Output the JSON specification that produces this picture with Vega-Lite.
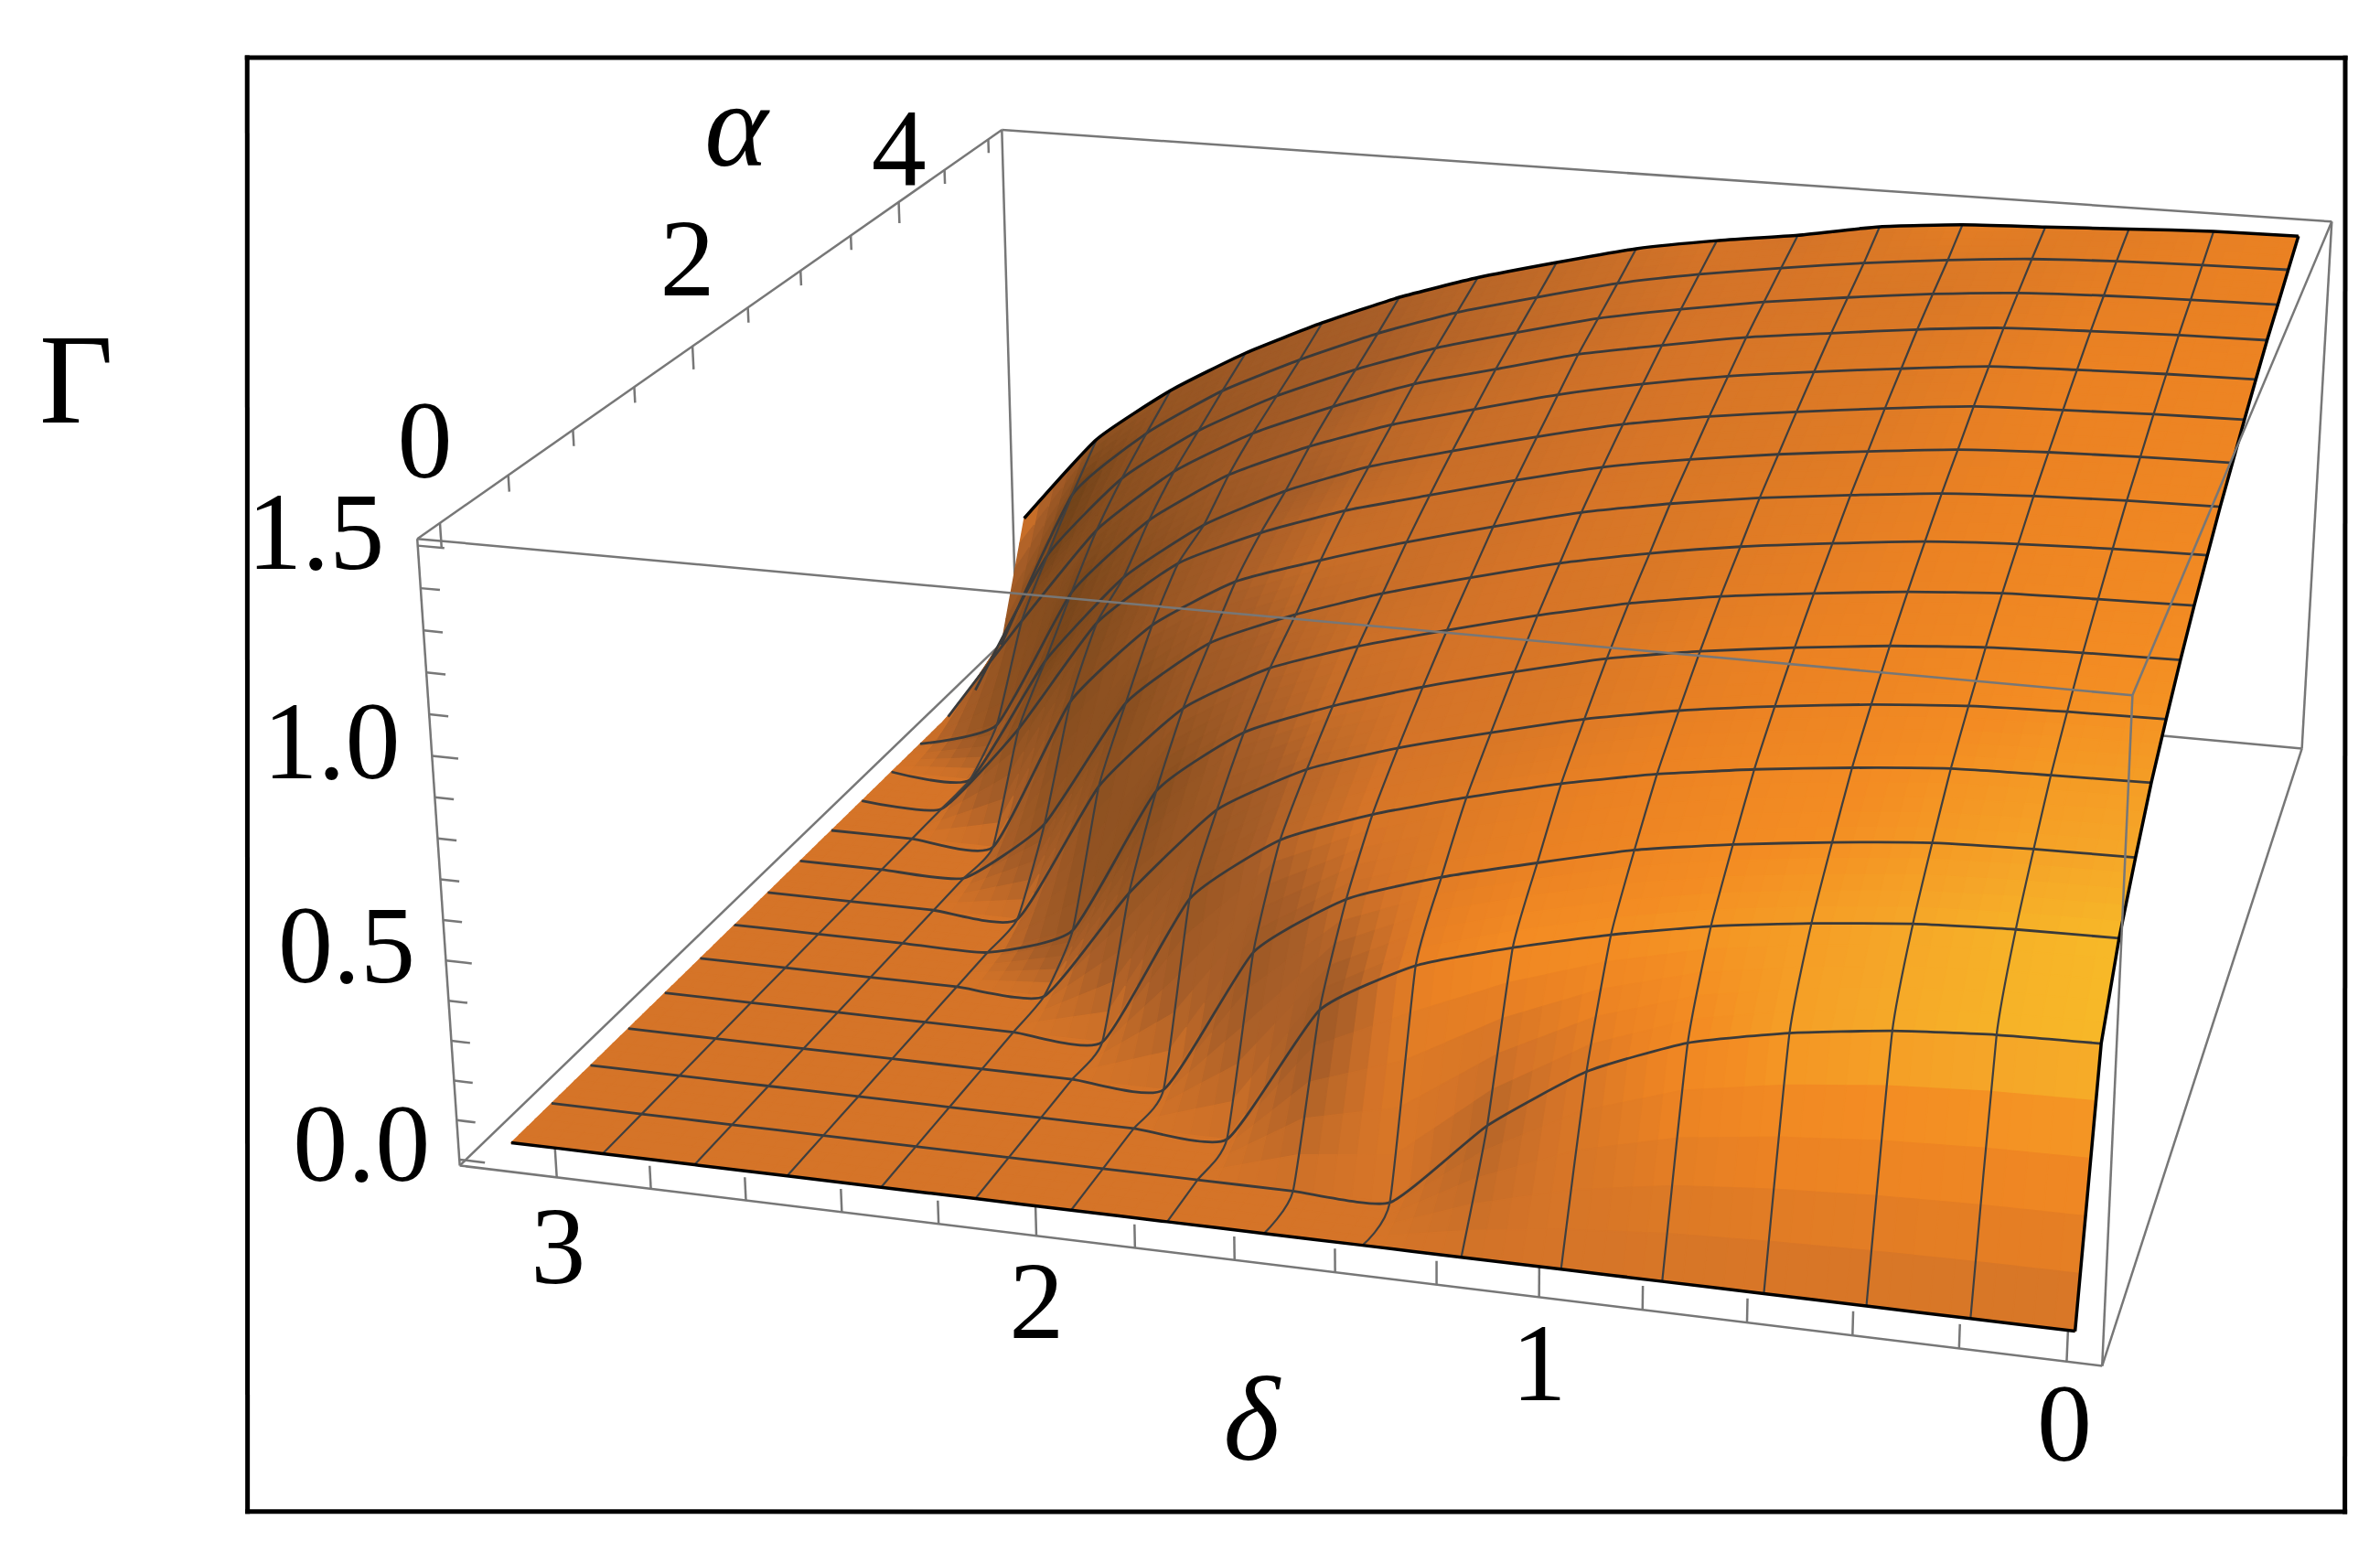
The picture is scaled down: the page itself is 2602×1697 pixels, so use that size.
{"$schema":"https://vega.github.io/schema/vega-lite/v6.json","width":2602,"height":1697,"autosize":"none","padding":0,"background":"white","config":{"view":{"stroke":null}},"projection":{"type":"identity","scale":1.6594,"translate":[0,0]},
"datasets":{"nodes":[
{"n":16,"d":0,"a":5,"g":1.5},{"n":116,"d":0.196,"a":5,"g":1.497},{"n":216,"d":0.393,"a":5,"g":1.487},{"n":316,"d":0.589,"a":5,"g":1.476},{"n":416,"d":0.785,"a":5,"g":1.466},{"n":516,"d":0.982,"a":5,"g":1.444},{"n":616,"d":1.178,"a":5,"g":1.403},{"n":716,"d":1.374,"a":5,"g":1.371},{"n":816,"d":1.571,"a":5,"g":1.331},{"n":916,"d":1.767,"a":5,"g":1.274},{"n":1016,"d":1.963,"a":5,"g":1.213},{"n":1116,"d":2.16,"a":5,"g":1.138},{"n":1216,"d":2.356,"a":5,"g":1.045},{"n":1316,"d":2.553,"a":5,"g":0.937},{"n":1416,"d":2.749,"a":5,"g":0.806},{"n":1516,"d":2.945,"a":5,"g":0.639},{"n":1616,"d":3.142,"a":5,"g":0.377},
{"n":15,"d":0,"a":4.6875,"g":1.467},{"n":115,"d":0.196,"a":4.6875,"g":1.463},{"n":215,"d":0.393,"a":4.6875,"g":1.457},{"n":315,"d":0.589,"a":4.6875,"g":1.446},{"n":415,"d":0.785,"a":4.6875,"g":1.426},{"n":515,"d":0.982,"a":4.6875,"g":1.401},{"n":615,"d":1.178,"a":4.6875,"g":1.37},{"n":715,"d":1.374,"a":4.6875,"g":1.335},{"n":815,"d":1.571,"a":4.6875,"g":1.292},{"n":915,"d":1.767,"a":4.6875,"g":1.235},{"n":1015,"d":1.963,"a":4.6875,"g":1.174},{"n":1115,"d":2.16,"a":4.6875,"g":1.095},{"n":1215,"d":2.356,"a":4.6875,"g":1.0},{"n":1315,"d":2.553,"a":4.6875,"g":0.89},{"n":1415,"d":2.749,"a":4.6875,"g":0.745},{"n":1515,"d":2.945,"a":4.6875,"g":0.54},{"n":1615,"d":3.142,"a":4.6875,"g":0.06},
{"n":14,"d":0,"a":4.375,"g":1.433},{"n":114,"d":0.196,"a":4.375,"g":1.429},{"n":214,"d":0.393,"a":4.375,"g":1.423},{"n":314,"d":0.589,"a":4.375,"g":1.413},{"n":414,"d":0.785,"a":4.375,"g":1.393},{"n":514,"d":0.982,"a":4.375,"g":1.366},{"n":614,"d":1.178,"a":4.375,"g":1.336},{"n":714,"d":1.374,"a":4.375,"g":1.298},{"n":814,"d":1.571,"a":4.375,"g":1.255},{"n":914,"d":1.767,"a":4.375,"g":1.197},{"n":1014,"d":1.963,"a":4.375,"g":1.135},{"n":1114,"d":2.16,"a":4.375,"g":1.055},{"n":1214,"d":2.356,"a":4.375,"g":0.96},{"n":1314,"d":2.553,"a":4.375,"g":0.84},{"n":1414,"d":2.749,"a":4.375,"g":0.68},{"n":1514,"d":2.945,"a":4.375,"g":0.43},{"n":1614,"d":3.142,"a":4.375,"g":0},
{"n":13,"d":0,"a":4.0625,"g":1.4},{"n":113,"d":0.196,"a":4.0625,"g":1.396},{"n":213,"d":0.393,"a":4.0625,"g":1.389},{"n":313,"d":0.589,"a":4.0625,"g":1.38},{"n":413,"d":0.785,"a":4.0625,"g":1.358},{"n":513,"d":0.982,"a":4.0625,"g":1.33},{"n":613,"d":1.178,"a":4.0625,"g":1.301},{"n":713,"d":1.374,"a":4.0625,"g":1.261},{"n":813,"d":1.571,"a":4.0625,"g":1.218},{"n":913,"d":1.767,"a":4.0625,"g":1.158},{"n":1013,"d":1.963,"a":4.0625,"g":1.098},{"n":1113,"d":2.16,"a":4.0625,"g":1.015},{"n":1213,"d":2.356,"a":4.0625,"g":0.92},{"n":1313,"d":2.553,"a":4.0625,"g":0.79},{"n":1413,"d":2.749,"a":4.0625,"g":0.6},{"n":1513,"d":2.945,"a":4.0625,"g":0.31},{"n":1613,"d":3.142,"a":4.0625,"g":0},
{"n":12,"d":0,"a":3.75,"g":1.36},{"n":112,"d":0.196,"a":3.75,"g":1.356},{"n":212,"d":0.393,"a":3.75,"g":1.349},{"n":312,"d":0.589,"a":3.75,"g":1.34},{"n":412,"d":0.785,"a":3.75,"g":1.316},{"n":512,"d":0.982,"a":3.75,"g":1.289},{"n":612,"d":1.178,"a":3.75,"g":1.259},{"n":712,"d":1.374,"a":3.75,"g":1.219},{"n":812,"d":1.571,"a":3.75,"g":1.171},{"n":912,"d":1.767,"a":3.75,"g":1.112},{"n":1012,"d":1.963,"a":3.75,"g":1.05},{"n":1112,"d":2.16,"a":3.75,"g":0.97},{"n":1212,"d":2.356,"a":3.75,"g":0.87},{"n":1312,"d":2.553,"a":3.75,"g":0.72},{"n":1412,"d":2.749,"a":3.75,"g":0.49},{"n":1512,"d":2.945,"a":3.75,"g":0.08},{"n":1612,"d":3.142,"a":3.75,"g":0},
{"n":11,"d":0,"a":3.4375,"g":1.32},{"n":111,"d":0.196,"a":3.4375,"g":1.316},{"n":211,"d":0.393,"a":3.4375,"g":1.308},{"n":311,"d":0.589,"a":3.4375,"g":1.299},{"n":411,"d":0.785,"a":3.4375,"g":1.275},{"n":511,"d":0.982,"a":3.4375,"g":1.247},{"n":611,"d":1.178,"a":3.4375,"g":1.216},{"n":711,"d":1.374,"a":3.4375,"g":1.176},{"n":811,"d":1.571,"a":3.4375,"g":1.123},{"n":911,"d":1.767,"a":3.4375,"g":1.065},{"n":1011,"d":1.963,"a":3.4375,"g":1.002},{"n":1111,"d":2.16,"a":3.4375,"g":0.915},{"n":1211,"d":2.356,"a":3.4375,"g":0.8},{"n":1311,"d":2.553,"a":3.4375,"g":0.63},{"n":1411,"d":2.749,"a":3.4375,"g":0.37},{"n":1511,"d":2.945,"a":3.4375,"g":0},{"n":1611,"d":3.142,"a":3.4375,"g":0},
{"n":10,"d":0,"a":3.125,"g":1.276},{"n":110,"d":0.196,"a":3.125,"g":1.272},{"n":210,"d":0.393,"a":3.125,"g":1.265},{"n":310,"d":0.589,"a":3.125,"g":1.253},{"n":410,"d":0.785,"a":3.125,"g":1.229},{"n":510,"d":0.982,"a":3.125,"g":1.202},{"n":610,"d":1.178,"a":3.125,"g":1.169},{"n":710,"d":1.374,"a":3.125,"g":1.129},{"n":810,"d":1.571,"a":3.125,"g":1.074},{"n":910,"d":1.767,"a":3.125,"g":1.014},{"n":1010,"d":1.963,"a":3.125,"g":0.952},{"n":1110,"d":2.16,"a":3.125,"g":0.871},{"n":1210,"d":2.356,"a":3.125,"g":0.766},{"n":1310,"d":2.553,"a":3.125,"g":0.578},{"n":1410,"d":2.749,"a":3.125,"g":0.255},{"n":1510,"d":2.945,"a":3.125,"g":0},{"n":1610,"d":3.142,"a":3.125,"g":0},
{"n":9,"d":0,"a":2.8125,"g":1.233},{"n":109,"d":0.196,"a":2.8125,"g":1.229},{"n":209,"d":0.393,"a":2.8125,"g":1.221},{"n":309,"d":0.589,"a":2.8125,"g":1.208},{"n":409,"d":0.785,"a":2.8125,"g":1.184},{"n":509,"d":0.982,"a":2.8125,"g":1.157},{"n":609,"d":1.178,"a":2.8125,"g":1.122},{"n":709,"d":1.374,"a":2.8125,"g":1.079},{"n":809,"d":1.571,"a":2.8125,"g":1.021},{"n":909,"d":1.767,"a":2.8125,"g":0.959},{"n":1009,"d":1.963,"a":2.8125,"g":0.89},{"n":1109,"d":2.16,"a":2.8125,"g":0.811},{"n":1209,"d":2.356,"a":2.8125,"g":0.67},{"n":1309,"d":2.553,"a":2.8125,"g":0.436},{"n":1409,"d":2.749,"a":2.8125,"g":0},{"n":1509,"d":2.945,"a":2.8125,"g":0},{"n":1609,"d":3.142,"a":2.8125,"g":0},
{"n":8,"d":0,"a":2.5,"g":1.182},{"n":108,"d":0.196,"a":2.5,"g":1.178},{"n":208,"d":0.393,"a":2.5,"g":1.17},{"n":308,"d":0.589,"a":2.5,"g":1.156},{"n":408,"d":0.785,"a":2.5,"g":1.131},{"n":508,"d":0.982,"a":2.5,"g":1.102},{"n":608,"d":1.178,"a":2.5,"g":1.064},{"n":708,"d":1.374,"a":2.5,"g":1.018},{"n":808,"d":1.571,"a":2.5,"g":0.959},{"n":908,"d":1.767,"a":2.5,"g":0.896},{"n":1008,"d":1.963,"a":2.5,"g":0.819},{"n":1108,"d":2.16,"a":2.5,"g":0.72},{"n":1208,"d":2.356,"a":2.5,"g":0.535},{"n":1308,"d":2.553,"a":2.5,"g":0.177},{"n":1408,"d":2.749,"a":2.5,"g":0},{"n":1508,"d":2.945,"a":2.5,"g":0},{"n":1608,"d":3.142,"a":2.5,"g":0},
{"n":7,"d":0,"a":2.1875,"g":1.13},{"n":107,"d":0.196,"a":2.1875,"g":1.125},{"n":207,"d":0.393,"a":2.1875,"g":1.119},{"n":307,"d":0.589,"a":2.1875,"g":1.102},{"n":407,"d":0.785,"a":2.1875,"g":1.077},{"n":507,"d":0.982,"a":2.1875,"g":1.048},{"n":607,"d":1.178,"a":2.1875,"g":1.009},{"n":707,"d":1.374,"a":2.1875,"g":0.957},{"n":807,"d":1.571,"a":2.1875,"g":0.897},{"n":907,"d":1.767,"a":2.1875,"g":0.833},{"n":1007,"d":1.963,"a":2.1875,"g":0.754},{"n":1107,"d":2.16,"a":2.1875,"g":0.624},{"n":1207,"d":2.356,"a":2.1875,"g":0.39},{"n":1307,"d":2.553,"a":2.1875,"g":0},{"n":1407,"d":2.749,"a":2.1875,"g":0},{"n":1507,"d":2.945,"a":2.1875,"g":0},{"n":1607,"d":3.142,"a":2.1875,"g":0},
{"n":6,"d":0,"a":1.875,"g":1.072},{"n":106,"d":0.196,"a":1.875,"g":1.068},{"n":206,"d":0.393,"a":1.875,"g":1.06},{"n":306,"d":0.589,"a":1.875,"g":1.042},{"n":406,"d":0.785,"a":1.875,"g":1.016},{"n":506,"d":0.982,"a":1.875,"g":0.985},{"n":606,"d":1.178,"a":1.875,"g":0.945},{"n":706,"d":1.374,"a":1.875,"g":0.889},{"n":806,"d":1.571,"a":1.875,"g":0.828},{"n":906,"d":1.767,"a":1.875,"g":0.756},{"n":1006,"d":1.963,"a":1.875,"g":0.664},{"n":1106,"d":2.16,"a":1.875,"g":0.486},{"n":1206,"d":2.356,"a":1.875,"g":0.086},{"n":1306,"d":2.553,"a":1.875,"g":0},{"n":1406,"d":2.749,"a":1.875,"g":0},{"n":1506,"d":2.945,"a":1.875,"g":0},{"n":1606,"d":3.142,"a":1.875,"g":0},
{"n":5,"d":0,"a":1.5625,"g":1.006},{"n":105,"d":0.196,"a":1.5625,"g":1.002},{"n":205,"d":0.393,"a":1.5625,"g":0.994},{"n":305,"d":0.589,"a":1.5625,"g":0.975},{"n":405,"d":0.785,"a":1.5625,"g":0.948},{"n":505,"d":0.982,"a":1.5625,"g":0.915},{"n":605,"d":1.178,"a":1.5625,"g":0.871},{"n":705,"d":1.374,"a":1.5625,"g":0.814},{"n":805,"d":1.571,"a":1.5625,"g":0.752},{"n":905,"d":1.767,"a":1.5625,"g":0.674},{"n":1005,"d":1.963,"a":1.5625,"g":0.546},{"n":1105,"d":2.16,"a":1.5625,"g":0.302},{"n":1205,"d":2.356,"a":1.5625,"g":0},{"n":1305,"d":2.553,"a":1.5625,"g":0},{"n":1405,"d":2.749,"a":1.5625,"g":0},{"n":1505,"d":2.945,"a":1.5625,"g":0},{"n":1605,"d":3.142,"a":1.5625,"g":0},
{"n":4,"d":0,"a":1.25,"g":0.934},{"n":104,"d":0.196,"a":1.25,"g":0.929},{"n":204,"d":0.393,"a":1.25,"g":0.922},{"n":304,"d":0.589,"a":1.25,"g":0.901},{"n":404,"d":0.785,"a":1.25,"g":0.874},{"n":504,"d":0.982,"a":1.25,"g":0.839},{"n":604,"d":1.178,"a":1.25,"g":0.792},{"n":704,"d":1.374,"a":1.25,"g":0.734},{"n":804,"d":1.571,"a":1.25,"g":0.667},{"n":904,"d":1.767,"a":1.25,"g":0.578},{"n":1004,"d":1.963,"a":1.25,"g":0.402},{"n":1104,"d":2.16,"a":1.25,"g":0},{"n":1204,"d":2.356,"a":1.25,"g":0},{"n":1304,"d":2.553,"a":1.25,"g":0},{"n":1404,"d":2.749,"a":1.25,"g":0},{"n":1504,"d":2.945,"a":1.25,"g":0},{"n":1604,"d":3.142,"a":1.25,"g":0},
{"n":3,"d":0,"a":0.9375,"g":0.84},{"n":103,"d":0.196,"a":0.9375,"g":0.836},{"n":203,"d":0.393,"a":0.9375,"g":0.827},{"n":303,"d":0.589,"a":0.9375,"g":0.804},{"n":403,"d":0.785,"a":0.9375,"g":0.775},{"n":503,"d":0.982,"a":0.9375,"g":0.737},{"n":603,"d":1.178,"a":0.9375,"g":0.681},{"n":703,"d":1.374,"a":0.9375,"g":0.621},{"n":803,"d":1.571,"a":0.9375,"g":0.541},{"n":903,"d":1.767,"a":0.9375,"g":0.381},{"n":1003,"d":1.963,"a":0.9375,"g":0},{"n":1103,"d":2.16,"a":0.9375,"g":0},{"n":1203,"d":2.356,"a":0.9375,"g":0},{"n":1303,"d":2.553,"a":0.9375,"g":0},{"n":1403,"d":2.749,"a":0.9375,"g":0},{"n":1503,"d":2.945,"a":0.9375,"g":0},{"n":1603,"d":3.142,"a":0.9375,"g":0},
{"n":2,"d":0,"a":0.625,"g":0.737},{"n":102,"d":0.196,"a":0.625,"g":0.733},{"n":202,"d":0.393,"a":0.625,"g":0.721},{"n":302,"d":0.589,"a":0.625,"g":0.697},{"n":402,"d":0.785,"a":0.625,"g":0.665},{"n":502,"d":0.982,"a":0.625,"g":0.619},{"n":602,"d":1.178,"a":0.625,"g":0.562},{"n":702,"d":1.374,"a":0.625,"g":0.492},{"n":802,"d":1.571,"a":0.625,"g":0.355},{"n":902,"d":1.767,"a":0.625,"g":0},{"n":1002,"d":1.963,"a":0.625,"g":0},{"n":1102,"d":2.16,"a":0.625,"g":0},{"n":1202,"d":2.356,"a":0.625,"g":0},{"n":1302,"d":2.553,"a":0.625,"g":0},{"n":1402,"d":2.749,"a":0.625,"g":0},{"n":1502,"d":2.945,"a":0.625,"g":0},{"n":1602,"d":3.142,"a":0.625,"g":0},
{"n":1,"d":0,"a":0.3125,"g":0.582},{"n":101,"d":0.196,"a":0.3125,"g":0.576},{"n":201,"d":0.393,"a":0.3125,"g":0.559},{"n":301,"d":0.589,"a":0.3125,"g":0.527},{"n":401,"d":0.785,"a":0.3125,"g":0.477},{"n":501,"d":0.982,"a":0.3125,"g":0.38},{"n":601,"d":1.178,"a":0.3125,"g":0.22},{"n":701,"d":1.374,"a":0.3125,"g":0},{"n":801,"d":1.571,"a":0.3125,"g":0},{"n":901,"d":1.767,"a":0.3125,"g":0},{"n":1001,"d":1.963,"a":0.3125,"g":0},{"n":1101,"d":2.16,"a":0.3125,"g":0},{"n":1201,"d":2.356,"a":0.3125,"g":0},{"n":1301,"d":2.553,"a":0.3125,"g":0},{"n":1401,"d":2.749,"a":0.3125,"g":0},{"n":1501,"d":2.945,"a":0.3125,"g":0},{"n":1601,"d":3.142,"a":0.3125,"g":0},
{"n":0,"d":0,"a":0,"g":0},{"n":100,"d":0.196,"a":0,"g":0},{"n":200,"d":0.393,"a":0,"g":0},{"n":300,"d":0.589,"a":0,"g":0},{"n":400,"d":0.785,"a":0,"g":0},{"n":500,"d":0.982,"a":0,"g":0},{"n":600,"d":1.178,"a":0,"g":0},{"n":700,"d":1.374,"a":0,"g":0},{"n":800,"d":1.571,"a":0,"g":0},{"n":900,"d":1.767,"a":0,"g":0},{"n":1000,"d":1.963,"a":0,"g":0},{"n":1100,"d":2.16,"a":0,"g":0},{"n":1200,"d":2.356,"a":0,"g":0},{"n":1300,"d":2.553,"a":0,"g":0},{"n":1400,"d":2.749,"a":0,"g":0},{"n":1500,"d":2.945,"a":0,"g":0},{"n":1600,"d":3.142,"a":0,"g":0}
],
"segments":[
{"z":"frame","d":5.363,"a":5.487,"g":1.516,"d2":0.075,"a2":7.851,"g2":1.516},
{"z":"frame","d":0.075,"a":7.851,"g":1.516,"d2":-0.727,"a2":-4.723,"g2":1.516},
{"z":"frame","d":-0.727,"a":-4.723,"g":1.516,"d2":1.764,"a2":-5.803,"g2":1.516},
{"z":"frame","d":1.764,"a":-5.803,"g":1.516,"d2":5.363,"a2":5.487,"g2":1.516},
{"z":"back","d":3.208,"a":5.16,"g":1.516,"d2":-0.0655,"a2":5.16,"g2":1.516},
{"z":"back","d":3.208,"a":5.16,"g":1.516,"d2":3.208,"a2":5.16,"g2":-0.0153},
{"z":"back","d":-0.0655,"a":5.16,"g":1.516,"d2":-0.0655,"a2":5.16,"g2":-0.0153},
{"z":"back","d":-0.0655,"a":5.16,"g":-0.0153,"d2":3.208,"a2":5.16,"g2":-0.0153},
{"z":"back","d":3.208,"a":-0.16,"g":-0.0153,"d2":3.208,"a2":5.16,"g2":-0.0153},
{"z":"back","d":-0.0655,"a":-0.16,"g":-0.0153,"d2":-0.0655,"a2":5.16,"g2":-0.0153},
{"z":"back","d":3.208,"a":-0.16,"g":-0.0153,"d2":-0.0655,"a2":-0.16,"g2":-0.0153},
{"z":"front","d":3.208,"a":-0.16,"g":-0.0153,"d2":3.208,"a2":-0.16,"g2":1.516},
{"z":"front","d":3.208,"a":-0.16,"g":1.516,"d2":-0.0655,"a2":-0.16,"g2":1.516},
{"z":"front","d":-0.0655,"a":-0.16,"g":-0.0153,"d2":-0.0655,"a2":-0.16,"g2":1.516},
{"z":"front","d":3.208,"a":-0.16,"g":1.516,"d2":3.208,"a2":5.16,"g2":1.516},
{"z":"front","d":-0.0655,"a":-0.16,"g":1.516,"d2":-0.0655,"a2":5.16,"g2":1.516},
{"z":"back","d":3,"a":-0.16,"g":-0.0153,"d2":3,"a2":-0.16,"g2":0.064},{"z":"back","d":2.8,"a":-0.16,"g":-0.0153,"d2":2.8,"a2":-0.16,"g2":0.043},{"z":"back","d":2.6,"a":-0.16,"g":-0.0153,"d2":2.6,"a2":-0.16,"g2":0.043},{"z":"back","d":2.4,"a":-0.16,"g":-0.0153,"d2":2.4,"a2":-0.16,"g2":0.043},{"z":"back","d":2.2,"a":-0.16,"g":-0.0153,"d2":2.2,"a2":-0.16,"g2":0.043},{"z":"back","d":2,"a":-0.16,"g":-0.0153,"d2":2,"a2":-0.16,"g2":0.064},{"z":"back","d":1.8,"a":-0.16,"g":-0.0153,"d2":1.8,"a2":-0.16,"g2":0.043},{"z":"back","d":1.6,"a":-0.16,"g":-0.0153,"d2":1.6,"a2":-0.16,"g2":0.043},{"z":"back","d":1.4,"a":-0.16,"g":-0.0153,"d2":1.4,"a2":-0.16,"g2":0.043},{"z":"back","d":1.2,"a":-0.16,"g":-0.0153,"d2":1.2,"a2":-0.16,"g2":0.043},{"z":"back","d":1,"a":-0.16,"g":-0.0153,"d2":1,"a2":-0.16,"g2":0.064},{"z":"back","d":0.8,"a":-0.16,"g":-0.0153,"d2":0.8,"a2":-0.16,"g2":0.043},{"z":"back","d":0.6,"a":-0.16,"g":-0.0153,"d2":0.6,"a2":-0.16,"g2":0.043},{"z":"back","d":0.4,"a":-0.16,"g":-0.0153,"d2":0.4,"a2":-0.16,"g2":0.043},{"z":"back","d":0.2,"a":-0.16,"g":-0.0153,"d2":0.2,"a2":-0.16,"g2":0.043},{"z":"back","d":0,"a":-0.16,"g":-0.0153,"d2":0,"a2":-0.16,"g2":0.064},
{"z":"front","d":3.208,"a":-0.16,"g":0,"d2":3.153,"a2":-0.16,"g2":0},{"z":"front","d":3.208,"a":-0.16,"g":0.1,"d2":3.168,"a2":-0.16,"g2":0.1},{"z":"front","d":3.208,"a":-0.16,"g":0.2,"d2":3.168,"a2":-0.16,"g2":0.2},{"z":"front","d":3.208,"a":-0.16,"g":0.3,"d2":3.168,"a2":-0.16,"g2":0.3},{"z":"front","d":3.208,"a":-0.16,"g":0.4,"d2":3.168,"a2":-0.16,"g2":0.4},{"z":"front","d":3.208,"a":-0.16,"g":0.5,"d2":3.153,"a2":-0.16,"g2":0.5},{"z":"front","d":3.208,"a":-0.16,"g":0.6,"d2":3.168,"a2":-0.16,"g2":0.6},{"z":"front","d":3.208,"a":-0.16,"g":0.7,"d2":3.168,"a2":-0.16,"g2":0.7},{"z":"front","d":3.208,"a":-0.16,"g":0.8,"d2":3.168,"a2":-0.16,"g2":0.8},{"z":"front","d":3.208,"a":-0.16,"g":0.9,"d2":3.168,"a2":-0.16,"g2":0.9},{"z":"front","d":3.208,"a":-0.16,"g":1,"d2":3.153,"a2":-0.16,"g2":1},{"z":"front","d":3.208,"a":-0.16,"g":1.1,"d2":3.168,"a2":-0.16,"g2":1.1},{"z":"front","d":3.208,"a":-0.16,"g":1.2,"d2":3.168,"a2":-0.16,"g2":1.2},{"z":"front","d":3.208,"a":-0.16,"g":1.3,"d2":3.168,"a2":-0.16,"g2":1.3},{"z":"front","d":3.208,"a":-0.16,"g":1.4,"d2":3.168,"a2":-0.16,"g2":1.4},{"z":"front","d":3.208,"a":-0.16,"g":1.5,"d2":3.153,"a2":-0.16,"g2":1.5},
{"z":"front","d":3.208,"a":0,"g":1.516,"d2":3.208,"a2":0,"g2":1.456},{"z":"front","d":3.208,"a":0.5,"g":1.516,"d2":3.208,"a2":0.5,"g2":1.476},{"z":"front","d":3.208,"a":1,"g":1.516,"d2":3.208,"a2":1,"g2":1.476},{"z":"front","d":3.208,"a":1.5,"g":1.516,"d2":3.208,"a2":1.5,"g2":1.476},{"z":"front","d":3.208,"a":2,"g":1.516,"d2":3.208,"a2":2,"g2":1.456},{"z":"front","d":3.208,"a":2.5,"g":1.516,"d2":3.208,"a2":2.5,"g2":1.476},{"z":"front","d":3.208,"a":3,"g":1.516,"d2":3.208,"a2":3,"g2":1.476},{"z":"front","d":3.208,"a":3.5,"g":1.516,"d2":3.208,"a2":3.5,"g2":1.476},{"z":"front","d":3.208,"a":4,"g":1.516,"d2":3.208,"a2":4,"g2":1.456},{"z":"front","d":3.208,"a":4.5,"g":1.516,"d2":3.208,"a2":4.5,"g2":1.476},{"z":"front","d":3.208,"a":5,"g":1.516,"d2":3.208,"a2":5,"g2":1.476}
],
"labels":[
{"kind":"num","label":"3","d":2.852,"a":-0.68,"g":0},{"kind":"num","label":"2","d":1.894,"a":-0.645,"g":0},{"kind":"num","label":"1","d":0.9256,"a":-0.64,"g":0},{"kind":"num","label":"0","d":-0.038,"a":-0.608,"g":0},
{"kind":"num","label":"0","d":3.453,"a":0.724,"g":1.516},{"kind":"num","label":"2","d":3.478,"a":2.99,"g":1.516},{"kind":"num","label":"4","d":3.376,"a":4.72,"g":1.516},
{"kind":"num","label":"0.0","d":3.42,"a":-0.16,"g":0},{"kind":"num","label":"0.5","d":3.42,"a":-0.16,"g":0.5},{"kind":"num","label":"1.0","d":3.42,"a":-0.16,"g":1},{"kind":"num","label":"1.5","d":3.42,"a":-0.16,"g":1.5},
{"kind":"ital","label":"δ","d":1.37,"a":-1.19,"g":0},{"kind":"ital","label":"α","d":3.844,"a":4.89,"g":1.516},
{"kind":"gam","label":"Γ","d":4.336,"a":1.04,"g":1.516}
]},
"layer":[
{"data":{"name":"segments"},"transform":[
{"calculate":"0.98-0.3055*datum.d","as":"u"},{"calculate":"0.03+0.188*datum.a","as":"v"},{"calculate":"0.01+0.653*datum.g","as":"w"},{"calculate":"0.98-0.3055*datum.d2","as":"u2"},{"calculate":"0.03+0.188*datum.a2","as":"v2"},{"calculate":"0.01+0.653*datum.g2","as":"w2"},
{"calculate":"(303+978.1*datum.u+560*datum.v-39.32*datum.w)/(1-0.075*datum.u+0.289*datum.v-0.04115*datum.w)","as":"lon"},{"calculate":"(768+64.5*datum.u-233.6*datum.v-427.61*datum.w)/(1-0.075*datum.u+0.289*datum.v-0.04115*datum.w)","as":"lat"},
{"calculate":"(303+978.1*datum.u2+560*datum.v2-39.32*datum.w2)/(1-0.075*datum.u2+0.289*datum.v2-0.04115*datum.w2)","as":"lon2"},{"calculate":"(768+64.5*datum.u2-233.6*datum.v2-427.61*datum.w2)/(1-0.075*datum.u2+0.289*datum.v2-0.04115*datum.w2)","as":"lat2"}],
"layer":[
{"transform":[{"filter":"datum.z=='frame'"}],"mark":{"type":"rule","stroke":"#000","strokeWidth":5,"strokeCap":"square"},"encoding":{"longitude":{"field":"lon","type":"quantitative"},"latitude":{"field":"lat","type":"quantitative"},"longitude2":{"field":"lon2"},"latitude2":{"field":"lat2"}}},
{"transform":[{"filter":"datum.z=='back'"}],"mark":{"type":"rule","stroke":"#777","strokeWidth":2.5},"encoding":{"longitude":{"field":"lon","type":"quantitative"},"latitude":{"field":"lat","type":"quantitative"},"longitude2":{"field":"lon2"},"latitude2":{"field":"lat2"}}}]},
{"data":{"name":"nodes"},"transform":[{"filter":"floor(datum.n/100)<16 && datum.n%100<16"},
{"calculate":"datum.n+100","as":"k10"},{"calculate":"datum.n+1","as":"k01"},{"calculate":"datum.n+101","as":"k11"},{"calculate":"datum.n-100","as":"km0"},{"calculate":"datum.n-99","as":"km1"},{"calculate":"datum.n+200","as":"k20"},{"calculate":"datum.n+201","as":"k21"},{"calculate":"datum.n-1","as":"k0m"},{"calculate":"datum.n+99","as":"k1m"},{"calculate":"datum.n+2","as":"k02"},{"calculate":"datum.n+102","as":"k12"},
{"lookup":"k10","from":{"data":{"name":"nodes"},"key":"n","fields":["g"]},"as":["g10"]},
{"lookup":"k01","from":{"data":{"name":"nodes"},"key":"n","fields":["g"]},"as":["g01"]},
{"lookup":"k11","from":{"data":{"name":"nodes"},"key":"n","fields":["g"]},"as":["g11"]},
{"lookup":"km0","from":{"data":{"name":"nodes"},"key":"n","fields":["g"]},"as":["gm0"]},
{"lookup":"km1","from":{"data":{"name":"nodes"},"key":"n","fields":["g"]},"as":["gm1"]},
{"lookup":"k20","from":{"data":{"name":"nodes"},"key":"n","fields":["g"]},"as":["g20"]},
{"lookup":"k21","from":{"data":{"name":"nodes"},"key":"n","fields":["g"]},"as":["g21"]},
{"lookup":"k0m","from":{"data":{"name":"nodes"},"key":"n","fields":["g"]},"as":["g0m"]},
{"lookup":"k1m","from":{"data":{"name":"nodes"},"key":"n","fields":["g"]},"as":["g1m"]},
{"lookup":"k02","from":{"data":{"name":"nodes"},"key":"n","fields":["g"]},"as":["g02"]},
{"lookup":"k12","from":{"data":{"name":"nodes"},"key":"n","fields":["g"]},"as":["g12"]},
{"calculate":"((isValid(datum.gm0)?datum.gm0:datum.g)-datum.g10)*2.177","as":"Gu00"},
{"calculate":"isValid(datum.g0m)?(datum.g01-datum.g0m)*2.223:(datum.g01-datum.g)*27","as":"Gv00"},
{"calculate":"(datum.g-(isValid(datum.g20)?datum.g20:datum.g10))*2.177","as":"Gu10"},
{"calculate":"isValid(datum.g1m)?(datum.g11-datum.g1m)*2.223:(datum.g11-datum.g10)*27","as":"Gv10"},
{"calculate":"((isValid(datum.gm1)?datum.gm1:datum.g01)-datum.g11)*2.177","as":"Gu01"},
{"calculate":"isValid(datum.g02)?(datum.g02-datum.g)*2.223:(datum.g01-datum.g)*4.446","as":"Gv01"},
{"calculate":"(datum.g01-(isValid(datum.g21)?datum.g21:datum.g11))*2.177","as":"Gu11"},
{"calculate":"isValid(datum.g12)?(datum.g12-datum.g10)*2.223:(datum.g11-datum.g10)*4.446","as":"Gv11"},
{"calculate":"datum.g==0?0.62:(-0.5*datum.Gu00+0.6*datum.Gv00+0.62)/sqrt(1+datum.Gu00*datum.Gu00+datum.Gv00*datum.Gv00)","as":"s00"},
{"calculate":"datum.g10==0?0.62:(-0.5*datum.Gu10+0.6*datum.Gv10+0.62)/sqrt(1+datum.Gu10*datum.Gu10+datum.Gv10*datum.Gv10)","as":"s10"},
{"calculate":"datum.g01==0?0.62:(-0.5*datum.Gu01+0.6*datum.Gv01+0.62)/sqrt(1+datum.Gu01*datum.Gu01+datum.Gv01*datum.Gv01)","as":"s01"},
{"calculate":"datum.g11==0?0.62:(-0.5*datum.Gu11+0.6*datum.Gv11+0.62)/sqrt(1+datum.Gu11*datum.Gu11+datum.Gv11*datum.Gv11)","as":"s11"},
{"calculate":"[0,0.2,0.4,0.6,0.8]","as":"si"},{"flatten":["si"]},
{"calculate":"[0.8,0.6,0.4,0.2,0]","as":"sj"},{"flatten":["sj"]},
{"calculate":"datum.si+0.2","as":"se"},{"calculate":"datum.sj+0.2","as":"te"},
{"calculate":"0.98-0.3055*datum.d-0.06*datum.si","as":"ua"},{"calculate":"0.98-0.3055*datum.d-0.06*datum.se","as":"ub"},{"calculate":"0.03+0.188*datum.a+0.05875*datum.sj","as":"va"},{"calculate":"0.03+0.188*datum.a+0.05875*datum.te","as":"vb"},
{"calculate":"0.01+0.653*((1-datum.si)*(1-datum.sj)*datum.g+datum.si*(1-datum.sj)*datum.g10+(1-datum.si)*datum.sj*datum.g01+datum.si*datum.sj*datum.g11)","as":"waa"},
{"calculate":"0.01+0.653*((1-datum.se)*(1-datum.sj)*datum.g+datum.se*(1-datum.sj)*datum.g10+(1-datum.se)*datum.sj*datum.g01+datum.se*datum.sj*datum.g11)","as":"wba"},
{"calculate":"0.01+0.653*((1-datum.si)*(1-datum.te)*datum.g+datum.si*(1-datum.te)*datum.g10+(1-datum.si)*datum.te*datum.g01+datum.si*datum.te*datum.g11)","as":"wab"},
{"calculate":"0.01+0.653*((1-datum.se)*(1-datum.te)*datum.g+datum.se*(1-datum.te)*datum.g10+(1-datum.se)*datum.te*datum.g01+datum.se*datum.te*datum.g11)","as":"wbb"},
{"calculate":"[(303+978.1*datum.ua+560*datum.va-39.32*datum.waa)/(1-0.075*datum.ua+0.289*datum.va-0.04115*datum.waa),(768+64.5*datum.ua-233.6*datum.va-427.61*datum.waa)/(1-0.075*datum.ua+0.289*datum.va-0.04115*datum.waa)]","as":"paa"},
{"calculate":"[(303+978.1*datum.ub+560*datum.va-39.32*datum.wba)/(1-0.075*datum.ub+0.289*datum.va-0.04115*datum.wba),(768+64.5*datum.ub-233.6*datum.va-427.61*datum.wba)/(1-0.075*datum.ub+0.289*datum.va-0.04115*datum.wba)]","as":"pba"},
{"calculate":"[(303+978.1*datum.ub+560*datum.vb-39.32*datum.wbb)/(1-0.075*datum.ub+0.289*datum.vb-0.04115*datum.wbb),(768+64.5*datum.ub-233.6*datum.vb-427.61*datum.wbb)/(1-0.075*datum.ub+0.289*datum.vb-0.04115*datum.wbb)]","as":"pbb"},
{"calculate":"[(303+978.1*datum.ua+560*datum.vb-39.32*datum.wab)/(1-0.075*datum.ua+0.289*datum.vb-0.04115*datum.wab),(768+64.5*datum.ua-233.6*datum.vb-427.61*datum.wab)/(1-0.075*datum.ua+0.289*datum.vb-0.04115*datum.wab)]","as":"pab"},
{"calculate":"{type:'Feature',properties:{},geometry:{type:'Polygon',coordinates:[[datum.paa,datum.pba,datum.pbb,datum.pab,datum.paa]]}}","as":"geo"},
{"calculate":"(0.9-datum.si)*(0.9-datum.sj)*datum.s00+(datum.si+0.1)*(0.9-datum.sj)*datum.s10+(0.9-datum.si)*(datum.sj+0.1)*datum.s01+(datum.si+0.1)*(datum.sj+0.1)*datum.s11","as":"shade"}],
"mark":{"type":"geoshape","strokeWidth":1.5},
"encoding":{"shape":{"field":"geo","type":"geojson"},
"fill":{"field":"shade","type":"quantitative","legend":null,"scale":{"domain":[-0.2,0.05,0.2,0.5,0.56,0.62,0.65,0.7,0.75,0.8,0.85],"range":["#4a2c12","#6a3f18","#824b1e","#a85e28","#be6928","#d57428","#da7826","#eb8223","#f38c23","#f5a528","#f7c32a"]}},
"stroke":{"field":"shade","type":"quantitative","legend":null,"scale":{"domain":[-0.2,0.05,0.2,0.5,0.56,0.62,0.65,0.7,0.75,0.8,0.85],"range":["#4a2c12","#6a3f18","#824b1e","#a85e28","#be6928","#d57428","#da7826","#eb8223","#f38c23","#f5a528","#f7c32a"]}}}},
{"data":{"name":"nodes"},"transform":[
{"calculate":"0.98-0.3055*datum.d","as":"u"},{"calculate":"0.03+0.188*datum.a","as":"v"},{"calculate":"0.01+0.653*datum.g","as":"w"},
{"calculate":"(303+978.1*datum.u+560*datum.v-39.32*datum.w)/(1-0.075*datum.u+0.289*datum.v-0.04115*datum.w)","as":"lon"},{"calculate":"(768+64.5*datum.u-233.6*datum.v-427.61*datum.w)/(1-0.075*datum.u+0.289*datum.v-0.04115*datum.w)","as":"lat"},
{"calculate":"floor(datum.n/100)","as":"i"},{"calculate":"datum.n%100","as":"j"}],
"layer":[
{"transform":[{"filter":"datum.j>0 && datum.j<16"}],"mark":{"type":"line","stroke":"#3a3a3a","strokeWidth":2.8,"interpolate":"cardinal","tension":0.5},"encoding":{"longitude":{"field":"lon","type":"quantitative"},"latitude":{"field":"lat","type":"quantitative"},"detail":{"field":"j"},"order":{"field":"n","type":"quantitative"}}},
{"transform":[{"filter":"datum.i>0 && datum.i<16"}],"mark":{"type":"line","stroke":"#3f3f3f","strokeWidth":2.2,"interpolate":"cardinal","tension":0.5},"encoding":{"longitude":{"field":"lon","type":"quantitative"},"latitude":{"field":"lat","type":"quantitative"},"detail":{"field":"i"},"order":{"field":"n","type":"quantitative"}}},
{"transform":[{"filter":"datum.j==0 || datum.j==16"}],"mark":{"type":"line","stroke":"#000","strokeWidth":3.5,"interpolate":"cardinal","tension":0.5},"encoding":{"longitude":{"field":"lon","type":"quantitative"},"latitude":{"field":"lat","type":"quantitative"},"detail":{"field":"j"},"order":{"field":"n","type":"quantitative"}}},
{"transform":[{"filter":"datum.i==0"}],"mark":{"type":"line","stroke":"#000","strokeWidth":3.5},"encoding":{"longitude":{"field":"lon","type":"quantitative"},"latitude":{"field":"lat","type":"quantitative"},"order":{"field":"n","type":"quantitative"}}}]},
{"data":{"name":"segments"},"transform":[{"filter":"datum.z=='front'"},
{"calculate":"0.98-0.3055*datum.d","as":"u"},{"calculate":"0.03+0.188*datum.a","as":"v"},{"calculate":"0.01+0.653*datum.g","as":"w"},{"calculate":"0.98-0.3055*datum.d2","as":"u2"},{"calculate":"0.03+0.188*datum.a2","as":"v2"},{"calculate":"0.01+0.653*datum.g2","as":"w2"},
{"calculate":"(303+978.1*datum.u+560*datum.v-39.32*datum.w)/(1-0.075*datum.u+0.289*datum.v-0.04115*datum.w)","as":"lon"},{"calculate":"(768+64.5*datum.u-233.6*datum.v-427.61*datum.w)/(1-0.075*datum.u+0.289*datum.v-0.04115*datum.w)","as":"lat"},
{"calculate":"(303+978.1*datum.u2+560*datum.v2-39.32*datum.w2)/(1-0.075*datum.u2+0.289*datum.v2-0.04115*datum.w2)","as":"lon2"},{"calculate":"(768+64.5*datum.u2-233.6*datum.v2-427.61*datum.w2)/(1-0.075*datum.u2+0.289*datum.v2-0.04115*datum.w2)","as":"lat2"}],
"mark":{"type":"rule","stroke":"#777","strokeWidth":2.5},"encoding":{"longitude":{"field":"lon","type":"quantitative"},"latitude":{"field":"lat","type":"quantitative"},"longitude2":{"field":"lon2"},"latitude2":{"field":"lat2"}}},
{"data":{"name":"labels"},"transform":[
{"calculate":"0.98-0.3055*datum.d","as":"u"},{"calculate":"0.03+0.188*datum.a","as":"v"},{"calculate":"0.01+0.653*datum.g","as":"w"},
{"calculate":"(303+978.1*datum.u+560*datum.v-39.32*datum.w)/(1-0.075*datum.u+0.289*datum.v-0.04115*datum.w)","as":"lon"},{"calculate":"(768+64.5*datum.u-233.6*datum.v-427.61*datum.w)/(1-0.075*datum.u+0.289*datum.v-0.04115*datum.w)","as":"lat"}],
"layer":[
{"transform":[{"filter":"datum.kind=='num'"}],"mark":{"type":"text","font":"Liberation Serif","fontSize":120,"align":"center","baseline":"middle","fill":"#000"},"encoding":{"longitude":{"field":"lon","type":"quantitative"},"latitude":{"field":"lat","type":"quantitative"},"text":{"field":"label"}}},
{"transform":[{"filter":"datum.kind=='ital'"}],"mark":{"type":"text","font":"Liberation Serif","fontStyle":"italic","fontSize":132,"align":"center","baseline":"middle","fill":"#000"},"encoding":{"longitude":{"field":"lon","type":"quantitative"},"latitude":{"field":"lat","type":"quantitative"},"text":{"field":"label"}}},
{"transform":[{"filter":"datum.kind=='gam'"}],"mark":{"type":"text","font":"Liberation Serif","fontSize":140,"align":"center","baseline":"middle","fill":"#000"},"encoding":{"longitude":{"field":"lon","type":"quantitative"},"latitude":{"field":"lat","type":"quantitative"},"text":{"field":"label"}}}]}
]}
